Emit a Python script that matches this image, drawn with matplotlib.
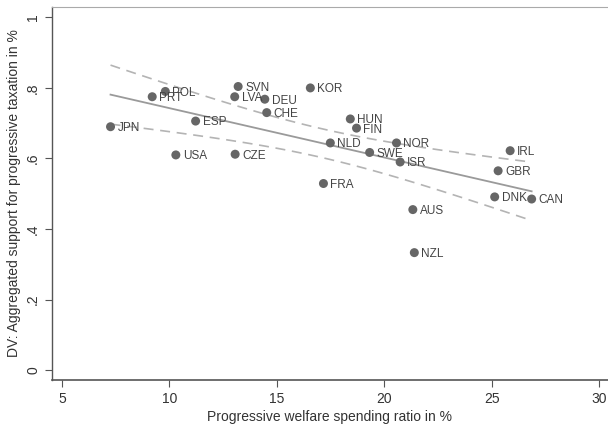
import numpy as np
import matplotlib
matplotlib.use("Agg")
import matplotlib.pyplot as plt

plt.rcParams['font.family'] = ['Liberation Sans', 'DejaVu Sans']

# country codes, welfare spending ratio (%), aggregated support
countries = ['JPN', 'PRT', 'POL', 'ESP', 'USA', 'SVN', 'LVA', 'DEU', 'CHE', 'CZE',
             'KOR', 'HUN', 'FIN', 'NLD', 'SWE', 'NOR', 'ISR', 'FRA', 'AUS', 'NZL',
             'IRL', 'GBR', 'DNK', 'CAN']
spending = [7.26, 9.20, 9.81, 11.22, 10.30, 13.20, 13.04, 14.44, 14.53, 13.06,
            16.56, 18.42, 18.71, 17.49, 19.32, 20.57, 20.74, 17.17, 21.33, 21.40,
            25.86, 25.30, 25.14, 26.86]
support = [0.690, 0.775, 0.790, 0.706, 0.610, 0.804, 0.775, 0.768, 0.730, 0.612,
           0.800, 0.712, 0.686, 0.644, 0.617, 0.644, 0.590, 0.529, 0.455, 0.333,
           0.622, 0.565, 0.491, 0.485]

x_ticks = [5, 10, 15, 20, 25, 30]
y_ticks = [0, 0.2, 0.4, 0.6, 0.8, 1.0]
y_tick_labels = ['0', '.2', '.4', '.6', '.8', '1']

x = np.array(spending)
y = np.array(support)

# linear fit with 95% confidence band
b, a = np.polyfit(x, y, 1)
n = len(x)
resid = y - (a + b * x)
s = np.sqrt(np.sum(resid ** 2) / (n - 2))
sxx = np.sum((x - x.mean()) ** 2)
xs = np.linspace(x.min(), x.max(), 100)
fit = a + b * xs
se = s * np.sqrt(1 / n + (xs - x.mean()) ** 2 / sxx)
t = 2.074

fig = plt.figure(figsize=(6.08, 4.25), dpi=100)
ax = fig.add_axes([0.0855, 0.106, 0.914, 0.878])

ax.plot(xs, fit + t * se, color='#b4b4b4', lw=1.2, ls=(0, (6, 4)))
ax.plot(xs, fit - t * se, color='#b4b4b4', lw=1.2, ls=(0, (6, 4)))
ax.plot(xs, fit, color='#9a9a9a', lw=1.3)

ax.scatter(x, y, s=42, color='#666666', zorder=3, edgecolors='none')
for c, xi, yi in zip(countries, x, y):
    ax.annotate(c, (xi, yi), xytext=(5, -1), textcoords='offset points',
                ha='left', va='center', fontsize=8.5, color='#444444')

ax.set_xlim(4.535, 30.4)
ax.set_ylim(-0.028, 1.03)
ax.set_xticks(x_ticks)
ax.set_yticks(y_ticks)
ax.set_yticklabels(y_tick_labels, rotation=90, va='center')
ax.tick_params(axis='both', direction='out', length=5, width=0.8,
               labelsize=10, color='#555555', labelcolor='#333333')

ax.spines['right'].set_visible(False)
ax.spines['top'].set_color('#aaaaaa')
ax.spines['left'].set_color('#555555')
ax.spines['bottom'].set_color('#555555')
ax.spines['left'].set_linewidth(1.0)
ax.spines['bottom'].set_linewidth(1.2)

ax.set_xlabel('Progressive welfare spending ratio in %', fontsize=10, color='#333333', labelpad=3)
ax.set_ylabel('DV: Aggregated support for progressive taxation in %', fontsize=10,
              color='#333333', labelpad=4)

fig.savefig('out.png', dpi=100, facecolor='white')
